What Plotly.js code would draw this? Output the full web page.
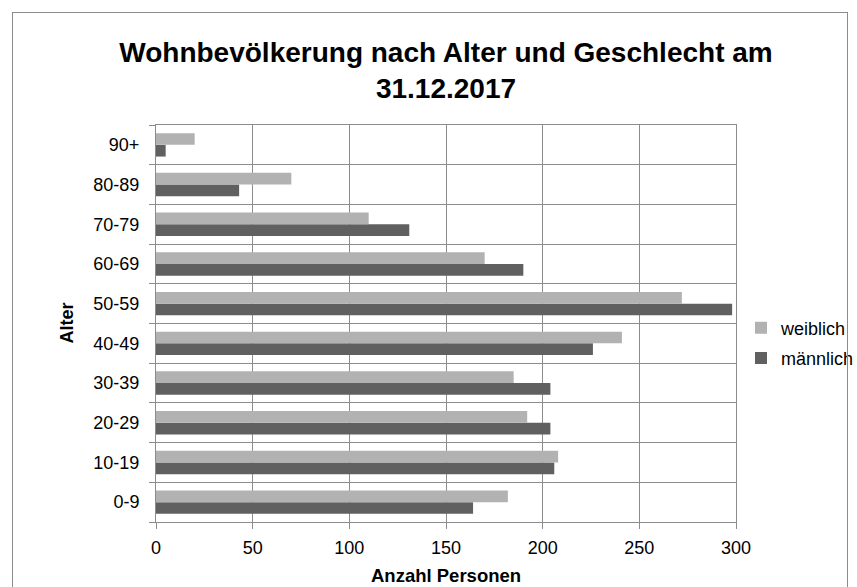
<!DOCTYPE html>
<html>
<head>
<meta charset="utf-8">
<script src="https://cdn.plot.ly/plotly-3.0.1.min.js"></script>
<style>
html,body{margin:0;padding:0;background:#fff;overflow:hidden;}
#wrap{position:relative;width:857px;height:587px;}
#chart{position:absolute;left:0;top:0;width:857px;height:587px;}
#frame{position:absolute;left:12px;top:12px;width:834px;height:620px;border:1px solid #8c8c8c;pointer-events:none;}
</style>
</head>
<body>
<div id="wrap"><div id="chart"></div><div id="frame"></div></div>
<script>
const categories = ["0-9","10-19","20-29","30-39","40-49","50-59","60-69","70-79","80-89","90+"];
const weiblich   = [182, 208, 192, 185, 241, 272, 170, 110, 70, 20];
const maennlich  = [164, 206, 204, 204, 226, 298, 190, 131, 43, 5];
const xTicks     = [0, 50, 100, 150, 200, 250, 300];

const FONT = "Liberation Sans, Arial, sans-serif";
const GRID = "#8c8c8c";

const traces = [
  {type:"bar", orientation:"h", name:"männlich", y:categories, x:maennlich,
   marker:{color:"#606060"}, legendgroup:"m", legendrank:2, hoverinfo:"x+y"},
  {type:"bar", orientation:"h", name:"weiblich", y:categories, x:weiblich,
   marker:{color:"#b2b2b2"}, legendgroup:"w", legendrank:1, hoverinfo:"x+y"}
];

const layout = {
  width:857, height:587,
  margin:{l:156, r:121, t:125, b:65, pad:0, autoexpand:false},
  paper_bgcolor:"#fff", plot_bgcolor:"#fff",
  font:{family:FONT, size:18, color:"#000"},
  barmode:"group", bargap:0.41, bargroupgap:0,
  title:{text:"<b>Wohnbevölkerung nach Alter und Geschlecht am<br>31.12.2017</b>",
         font:{family:FONT, size:28, color:"#000"},
         xref:"paper", x:0.5, xanchor:"center",
         yref:"container", y:1-61.5/587, yanchor:"middle"},
  xaxis:{range:[0,300], tickvals:xTicks, ticktext:xTicks.map(String),
         showgrid:true, gridcolor:GRID, gridwidth:1, zeroline:false,
         showline:true, linecolor:GRID, linewidth:1, mirror:true,
         ticks:"outside", ticklen:6, tickcolor:GRID, tickwidth:1,
         ticklabelstandoff:3,
         tickfont:{family:FONT, size:18, color:"#000"}, fixedrange:true},
  yaxis:{type:"category", categoryorder:"array", categoryarray:categories,
         tickson:"boundaries", showgrid:true, gridcolor:GRID, gridwidth:1, zeroline:false,
         showline:true, linecolor:GRID, linewidth:1, mirror:true,
         ticks:"outside", ticklen:6, tickcolor:GRID, tickwidth:1,
         ticklabelstandoff:12,
         tickfont:{family:FONT, size:18, color:"#000"}, fixedrange:true},
  showlegend:true,
  legend:{traceorder:"grouped", tracegroupgap:4,
          xref:"container", x:741/857, xanchor:"left",
          y:(522-343)/397, yanchor:"middle",
          font:{family:FONT, size:18, color:"#000"}, itemwidth:30,
          bgcolor:"rgba(0,0,0,0)"},
  annotations:[
    {text:"<b>Alter</b>", xref:"paper", yref:"paper", x:(66-156)/580, y:0.5,
     xanchor:"center", yanchor:"middle", textangle:-90, showarrow:false,
     font:{family:FONT, size:18, color:"#000"}},
    {text:"<b>Anzahl Personen</b>", xref:"paper", yref:"paper", x:0.5, y:-(575-522)/397,
     xanchor:"center", yanchor:"middle", showarrow:false,
     font:{family:FONT, size:18.5, color:"#000"}}
  ]
};

Plotly.newPlot("chart", traces, layout, {displayModeBar:false, staticPlot:true});
</script>
</body>
</html>
